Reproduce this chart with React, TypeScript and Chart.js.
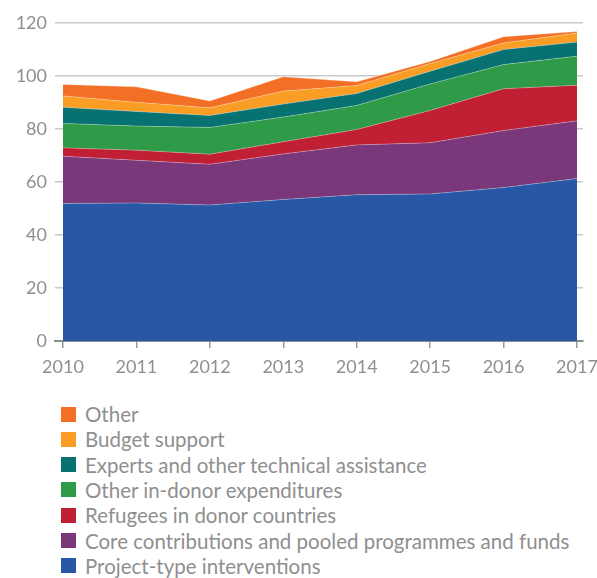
import React, { useEffect, useRef } from "react";
import { Chart, registerables } from "chart.js";
Chart.register(...registerables);

const years = [2010, 2011, 2012, 2013, 2014, 2015, 2016, 2017];
const projectType = [51.9, 52.1, 51.3, 53.4, 55.2, 55.5, 57.9, 61.3];
const coreContrib = [17.8, 16.1, 15.4, 17.2, 18.8, 19.3, 21.5, 21.8];
const refugees = [3.2, 3.8, 3.8, 4.6, 5.8, 12.2, 15.8, 13.4];
const otherInDonor = [9.2, 9.1, 10.1, 9.3, 9.1, 10.0, 9.1, 11.0];
const experts = [6.1, 5.5, 4.5, 4.9, 4.5, 4.8, 5.7, 5.3];
const budgetSupport = [4.3, 3.5, 2.9, 4.9, 3.0, 2.9, 2.5, 3.4];
const other = [4.3, 5.8, 2.6, 5.4, 1.4, 0.8, 2.3, 0.6];

// bottom to top
const seriesLabels = [
  "Project-type interventions",
  "Core contributions and pooled programmes and funds",
  "Refugees in donor countries",
  "Other in-donor expenditures",
  "Experts and other technical assistance",
  "Budget support",
  "Other",
];
const seriesValues = [projectType, coreContrib, refugees, otherInDonor, experts, budgetSupport, other];
const seriesColors = ["#2757a5", "#7a3779", "#c11f33", "#2f9a47", "#087272", "#f99d25", "#f26f25"];

const FONT = "Lato, 'Open Sans', sans-serif";
const TEXT_GRAY = "#8f8f8f";

export default function App() {
  const ref = useRef<HTMLCanvasElement | null>(null);
  useEffect(() => {
    if (!ref.current) return;
    const datasets = seriesValues.map((vals, i) => ({
      label: seriesLabels[i],
      data: vals.map((v, j) => ({ x: years[j], y: v })),
      backgroundColor: seriesColors[i],
      borderColor: "rgba(255,255,255,0.35)",
      borderWidth: 0.8,
      pointRadius: 0,
      tension: 0,
      fill: i === 0 ? "origin" : "-1",
    }));
    const chart = new Chart(ref.current, {
      type: "line",
      data: { datasets },
      options: {
        animation: false,
        responsive: false,
        maintainAspectRatio: false,
        layout: { padding: { top: 23, right: 14, left: 0, bottom: 0 } },
        plugins: { legend: { display: false }, tooltip: { enabled: false } },
        scales: {
          x: {
            type: "linear",
            min: 2009.891,
            max: 2017.082,
            ticks: {
              stepSize: 1,
              includeBounds: false,
              autoSkip: false,
              maxRotation: 0,
              padding: 8,
              color: TEXT_GRAY,
              font: { family: FONT, size: 18 },
              callback: (v: any) => String(v),
            },
            grid: { drawOnChartArea: false, drawTicks: true, tickLength: 7, color: "#9a9a9a", lineWidth: 1.5 },
            border: { display: true, color: "#8c8c8c", width: 2 },
            afterFit: (s: any) => { s.height = 59; s.paddingRight = 0; s.paddingLeft = 0; },
          },
          y: {
            stacked: true,
            min: 0,
            max: 120,
            ticks: {
              stepSize: 20,
              padding: 8,
              color: TEXT_GRAY,
              font: { family: FONT, size: 18 },
            },
            grid: { drawTicks: false, color: "#c9c9c9", lineWidth: 1.5 },
            border: { display: false },
            afterFit: (s: any) => { s.width = 55; },
          },
        },
      },
    });
    return () => chart.destroy();
  }, []);

  const legendOrder = [...seriesLabels.keys()].reverse();
  return (
    <div style={{ position: "absolute", left: 0, top: 0, width: 597, height: 578, background: "#fff" }}>
      <canvas ref={ref} width={597} height={400} style={{ position: "absolute", left: 0, top: 0, width: 597, height: 400 }} />
      {legendOrder.map((i, k) => (
        <div
          key={i}
          style={{
            position: "absolute",
            left: 61,
            top: 414 + k * 25.33 - 12,
            height: 24,
            display: "flex",
            alignItems: "center",
            fontFamily: FONT,
            fontSize: 20.5,
            color: TEXT_GRAY,
            whiteSpace: "nowrap",
          }}
        >
          <span style={{ display: "inline-block", width: 15, height: 15, background: seriesColors[i], marginRight: 9 }} />
          <span>{seriesLabels[i]}</span>
        </div>
      ))}
    </div>
  );
}
